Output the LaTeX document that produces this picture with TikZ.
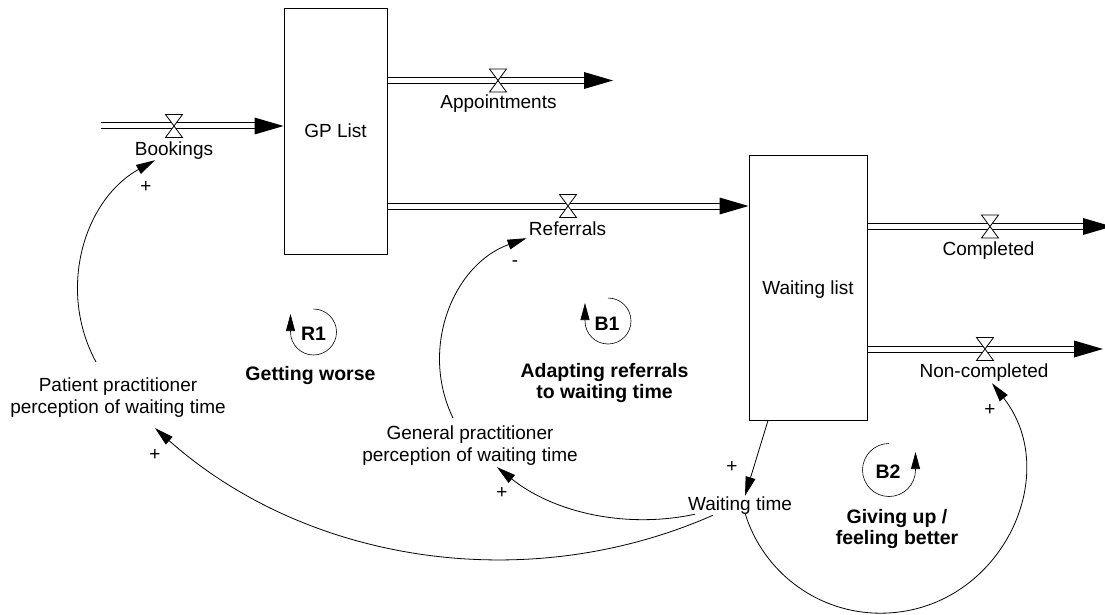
\documentclass[tikz,border=0pt]{standalone}
\usepackage{fontspec}
\setmainfont{Liberation Sans}
\usetikzlibrary{arrows.meta}
\pgfdeclarelayer{pipes}
\pgfsetlayers{pipes,main}
\begin{document}
\begin{tikzpicture}[x=1pt,y=-1pt,
  lbl/.style={font=\fontsize{19}{21.5}\selectfont, inner sep=0pt, text height=14pt, text depth=4pt},
  mlbl/.style={font=\fontsize{19}{21.5}\selectfont, inner sep=0pt, align=center, anchor=north},
  blbl/.style={font=\fontsize{19.5}{21.5}\selectfont\bfseries, inner sep=0pt, align=center, anchor=north},
  bsingle/.style={font=\fontsize{19.5}{21.5}\selectfont\bfseries, inner sep=0pt, text height=14pt, text depth=4pt},
  loopid/.style={font=\fontsize{19.5}{21.5}\selectfont\bfseries, inner sep=0pt, text height=14pt, text depth=0pt},
  sign/.style={font=\fontsize{19}{19}\selectfont, inner sep=0pt},
  stock/.style={draw, line width=0.9pt, inner sep=0pt, font=\fontsize{19}{21.5}\selectfont, text height=14pt, text depth=0pt},
  pipe/.style={double, double distance=5pt, line width=1pt, shorten >=20pt},
  link/.style={line width=0.8pt, -{Triangle[length=19pt,width=10pt]}},
  loopsym/.style={line width=0.6pt, -{Triangle[length=17pt,width=9pt]}},
  valve/.pic={\draw[fill=white, line width=0.8pt] (-8.5,-11.5) -- (8.5,-11.5) -- (-8.5,11.5) -- (8.5,11.5) -- cycle;},
  fhead/.pic={\fill (0,0) -- (-29,-8.5) -- (-29,8.5) -- cycle;},
]
\useasboundingbox (0,0) rectangle (1105,615);

% stocks
\node[stock, minimum width=103pt, minimum height=246pt] (gp) at (335.5,131) {GP List};
\node[stock, minimum width=118pt, minimum height=265pt] (wl) at (808,287.5) {Waiting list};

% valve / source / sink points
\coordinate (bsrc) at (101,126);
\coordinate (bv) at (174,126);
\coordinate (av) at (498,80.5);
\coordinate (asink) at (613,80.5);
\coordinate (rv) at (568,206);
\coordinate (cv) at (990,226.5);
\coordinate (csink) at (1112,226.5);
\coordinate (nv) at (985,349);
\coordinate (nsink) at (1103,349);

% pipes (under the stocks)
\begin{pgfonlayer}{pipes}
\draw[pipe] (bsrc) -- (gp.west |- bv);
\draw[pipe] (gp.east |- av) -- (asink);
\draw[pipe] (gp.east |- rv) -- (wl.west |- rv);
\draw[pipe] (wl.east |- cv) -- (csink);
\draw[pipe] (wl.east |- nv) -- (nsink);
\end{pgfonlayer}

% valves
\pic at (bv) {valve};
\pic at (av) {valve};
\pic at (rv) {valve};
\pic at (cv) {valve};
\pic at (nv) {valve};

% flow heads
\pic at (gp.west |- bv) {fhead};
\pic at (asink) {fhead};
\pic at (wl.west |- rv) {fhead};
\pic at (csink) {fhead};
\pic at (nsink) {fhead};

% flow labels
\node[lbl] (book) at (174,150) {Bookings};
\node[lbl] (appt) at (498.5,103.3) {Appointments};
\node[lbl] (ref) at (567.5,230) {Referrals};
\node[lbl] (compl) at (988.5,250) {Completed};
\node[lbl] (noncomp) at (984,372.7) {Non-completed};

% auxiliaries
\node[lbl] (wt) at (740,505) {Waiting time};
\node[mlbl] (pat) at (118,378) {Patient practitioner\\perception of waiting time};
\node[mlbl] (gen) at (470,426) {General practitioner\\perception of waiting time};

% links
\draw[link] ([shift={(-22,-16)}]pat.north) .. controls +(-39,-72) and +(-71.5,40) .. ([shift={(-19,1)}]book.south);
\draw[link] ([shift={(-27,1)}]wt.south) .. controls +(-186,82) and +(152,135) .. ([shift={(37,10.5)}]pat.south);
\draw[link] ([shift={(-45,0)}]wt.south) .. controls +(-70,15) and +(56,45) .. ([shift={(27,1.5)}]gen.south);
\draw[link] ([shift={(-17,-8)}]gen.north) .. controls +(-34,-70) and +(-73,26) .. ([shift={(-41,-1)}]ref.south);
\draw[link] ([shift={(-40,0)}]wl.south) -- ([shift={(5,0)}]wt.north);
\draw[link] ([shift={(5,-1)}]wt.south) .. controls +(18.3,59.5) and +(-62.2,0) .. ++(135.3,100)
   .. controls +(118.1,0) and +(72.9,92.9) .. ([shift={(8,1.3)}]noncomp.south);

% polarity signs
\node[sign] (s1) at (146,187) {+};
\node[sign] (s2) at (155,455) {+};
\node[sign] (s3) at (502,493) {+};
\node[sign] (s4) at (515,264) {-};
\node[sign] (s5) at (732,467) {+};
\node[sign] (s6) at (990,410) {+};

% loop symbols
\draw[loopsym] (313.5,309) arc[start angle=90, end angle=-180, radius=23pt] -- ++(0,-18);
\node[loopid] (r1) at (313.5,333) {R1};
\draw[loopsym] (608,298) arc[start angle=90, end angle=-180, radius=23pt] -- ++(0,-18);
\node[loopid] (b1) at (607,323) {B1};
\draw[loopsym] (889,443.5) arc[start angle=90, end angle=360, radius=26.5pt] -- ++(0,-18);
\node[loopid] (b2) at (888,471.7) {B2};

% loop names
\node[bsingle] (gw) at (310.5,375) {Getting worse};
\node[blbl] (adapt) at (604.5,363) {Adapting referrals\\to waiting time};
\node[blbl] (giving) at (897,508.7) {Giving up /\\feeling better};
\end{tikzpicture}
\end{document}
